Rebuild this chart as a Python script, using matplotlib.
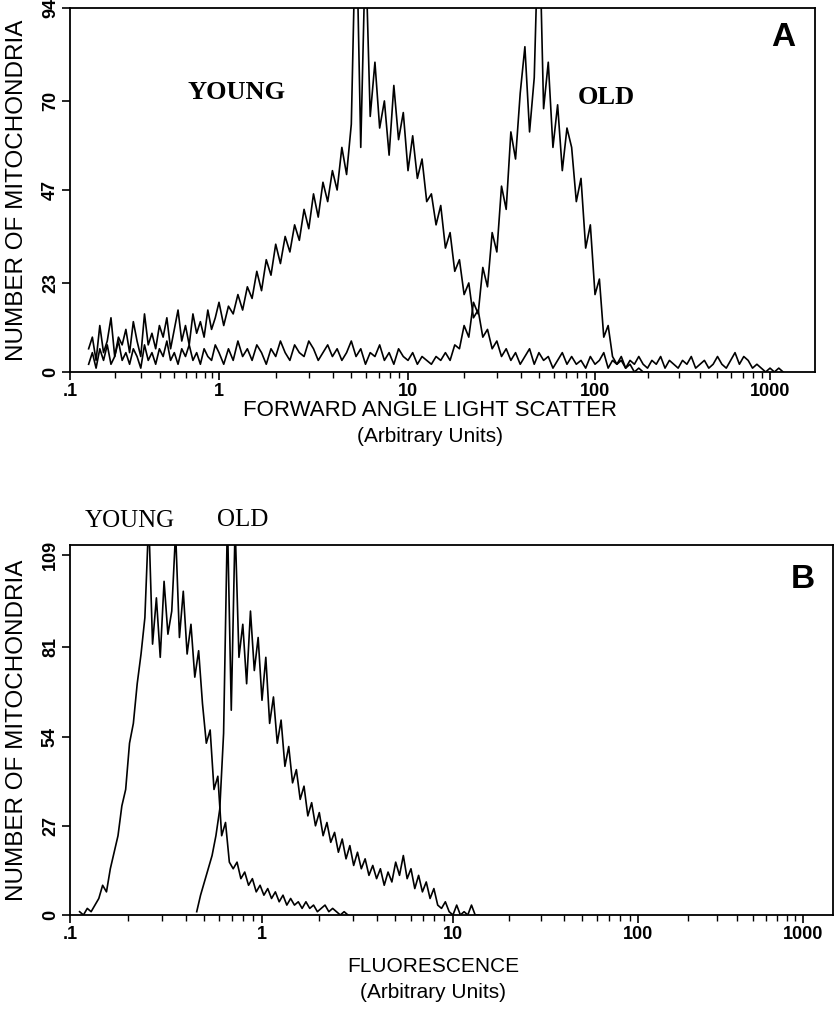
import numpy as np
import matplotlib
matplotlib.use("Agg")
import matplotlib.pyplot as plt
from matplotlib.ticker import FixedLocator, NullFormatter

plt.rcParams['font.family'] = ['Liberation Sans', 'DejaVu Sans']

# channel layout (log10 start, log10 step) for each histogram
a_start, a_step = -0.875, 0.025
b_young_start, b_old_start, b_step = -0.95, -0.34, 0.02

# panel A: forward angle light scatter, counts per channel
a_young = [6, 9, 3, 12, 5, 8, 14, 4, 9, 7,
           11, 5, 13, 8, 4, 15, 7, 10, 6, 12,
           9, 14, 6, 11, 16, 8, 12, 7, 15, 10,
           13, 9, 16, 11, 14, 18, 12, 17, 15, 20,
           16, 22, 19, 26, 21, 29, 25, 33, 28, 35,
           31, 38, 34, 42, 37, 46, 40, 49, 44, 52,
           47, 58, 51, 64, 120, 58, 110, 66, 80, 63,
           70, 56, 74, 60, 67, 52, 61, 50, 55, 44,
           46, 38, 43, 32, 36, 26, 29, 20, 23, 14,
           16, 9, 11, 6, 8, 4, 6, 3, 5, 2,
           4, 6, 2, 5, 3, 4, 1, 3, 5, 2,
           4, 2, 3, 1, 4, 2, 3, 5, 1, 3,
           2, 4, 1, 3, 2, 4, 2, 1, 3, 2,
           4, 1, 3, 2, 1, 3, 2, 4, 1, 2,
           3, 1, 2, 4, 2, 1, 3, 5, 2, 4,
           3, 1, 2, 1, 0, 1, 0, 1, 0]
a_old = [2, 5, 1, 6, 3, 7, 2, 4, 8, 3,
         5, 2, 6, 4, 1, 7, 3, 5, 2, 6,
         4, 8, 3, 5, 2, 6, 4, 7, 3, 5,
         2, 6, 4, 3, 7, 5, 2, 6, 3, 8,
         4, 6, 3, 7, 5, 2, 6, 4, 8, 5,
         3, 7, 5, 4, 8, 6, 3, 5, 7, 4,
         6, 3, 5, 8, 4, 6, 2, 5, 4, 7,
         3, 5, 2, 6, 4, 3, 5, 2, 4, 3,
         2, 4, 3, 5, 3, 7, 6, 12, 9, 18,
         15, 27, 22, 36, 31, 48, 42, 62, 55, 72,
         84, 62, 76, 120, 68, 80, 58, 69, 52, 63,
         58, 44, 50, 32, 38, 20, 24, 9, 12, 4,
         2, 3, 1, 2, 0, 1, 0, 0]

# panel B: fluorescence, counts per channel
b_young = [1, 0, 2, 1, 3, 5, 9, 7, 14, 19,
           24, 33, 38, 52, 58, 70, 79, 90, 120, 82,
           96, 78, 101, 85, 92, 116, 84, 98, 79, 88,
           72, 80, 64, 52, 56, 38, 42, 24, 28, 16,
           14, 16, 11, 13, 9, 11, 7, 9, 6, 8,
           5, 7, 4, 6, 3, 5, 3, 4, 2, 4,
           2, 3, 1, 2, 3, 1, 2, 1, 0, 1, 0]
b_old = [1, 6, 10, 14, 18, 24, 32, 55, 120, 62,
         118, 78, 88, 70, 92, 74, 84,
         65, 78, 58, 66, 52, 59, 45, 51, 40, 44,
         35, 39, 30, 34, 27, 31, 24, 28, 22, 25,
         19, 23, 17, 21, 15, 19, 14, 17, 12, 15,
         11, 14, 9, 13, 10, 16, 12, 18, 11, 14,
         8, 12, 7, 10, 5, 8, 3, 2, 4, 1,
         0, 3, 0, 1, 0, 3, 0, 0]

dec_labels = ['.1', '1', '10', '100', '1000']
a_yticks = [0, 23, 47, 70, 94]
b_yticks = [0, 27, 54, 81, 109]

# hand placed decade marks on the original axes (pixels)
decs = [-3, -1, 0, 1, 2, 3, 5]
a_pos = [70 - 2 * 149, 70, 219, 408, 595, 770, 770 + 2 * 175]
b_pos = [70 - 2 * 192, 70, 262, 453, 638, 803, 803 + 2 * 165]


def make_scale(pos):
    def fwd(x):
        x = np.asarray(x, dtype=float)
        return np.interp(np.log10(np.maximum(x, 1e-9)), decs, pos)

    def inv(p):
        return 10 ** np.interp(np.asarray(p, dtype=float), pos, decs)
    return fwd, inv


def channels(start, step, n):
    return 10 ** (start + step * np.arange(n))


fig = plt.figure(figsize=(8.36, 10.16), dpi=100)
axA = fig.add_axes([70 / 836, 1 - 372 / 1016, 745 / 836, 364 / 1016])
axB = fig.add_axes([70 / 836, 1 - 915 / 1016, 763 / 836, 370 / 1016])

line_kw = dict(color='k', lw=1.2)
axA.plot(channels(a_start, a_step, len(a_young)), a_young, **line_kw)
axA.plot(channels(a_start, a_step, len(a_old)), a_old, **line_kw)
axB.plot(channels(b_young_start, b_step, len(b_young)), b_young, **line_kw)
axB.plot(channels(b_old_start, b_step, len(b_old)), b_old, **line_kw)

major = [0.1, 1, 10, 100, 1000]
for ax, pos, xmax, yt, ymax in [(axA, a_pos, 10 ** 3.257, a_yticks, 94),
                                (axB, b_pos, 10 ** 3.182, b_yticks, 112)]:
    ax.set_xscale('function', functions=make_scale(pos))
    ax.set_xlim(0.1, xmax)
    ax.set_ylim(0, ymax)
    ax.xaxis.set_major_locator(FixedLocator(major))
    minor = [k * 10.0 ** d for d in range(-1, 4) for k in range(2, 10)
             if k * 10.0 ** d < xmax]
    ax.xaxis.set_minor_locator(FixedLocator(minor))
    ax.xaxis.set_minor_formatter(NullFormatter())
    ax.set_xticklabels(dec_labels, fontsize=13, fontweight='bold')
    ax.set_yticks(yt)
    ax.set_yticklabels([str(v) for v in yt], fontsize=13, fontweight='bold',
                       rotation=90, va='center')
    ax.tick_params(axis='both', which='major', direction='out', length=6,
                   width=1.2, pad=2)
    ax.tick_params(axis='x', which='minor', direction='out', length=4,
                   width=1.0)
    for s in ax.spines.values():
        s.set_linewidth(1.3)

# panel letters and group labels
fig.text(783 / 836, 1 - 38 / 1016, 'A', fontsize=24, fontweight='bold',
         ha='center', va='center')
fig.text(803 / 836, 1 - 580 / 1016, 'B', fontsize=24, fontweight='bold',
         ha='center', va='center')
fig.text(237 / 836, 1 - 92 / 1016, 'YOUNG', family='Liberation Serif',
         fontsize=19, fontweight='bold', ha='center', va='center')
fig.text(606 / 836, 1 - 97 / 1016, 'OLD', family='Liberation Serif',
         fontsize=19, fontweight='bold', ha='center', va='center')
fig.text(130 / 836, 1 - 521 / 1016, 'YOUNG', family='Liberation Serif',
         fontsize=18, ha='center', va='center')
fig.text(243 / 836, 1 - 520 / 1016, 'OLD', family='Liberation Serif',
         fontsize=18, ha='center', va='center')

# axis titles
fig.text(17 / 836, 1 - 190 / 1016, 'NUMBER OF MITOCHONDRIA', rotation=90,
         fontsize=17.5, ha='center', va='center')
fig.text(17 / 836, 1 - 730 / 1016, 'NUMBER OF MITOCHONDRIA', rotation=90,
         fontsize=17.5, ha='center', va='center')
fig.text(430 / 836, 1 - 411 / 1016, 'FORWARD ANGLE LIGHT SCATTER',
         fontsize=16, ha='center', va='center')
fig.text(430 / 836, 1 - 437 / 1016, '(Arbitrary Units)',
         fontsize=15, ha='center', va='center')
fig.text(433 / 836, 1 - 966 / 1016, 'FLUORESCENCE',
         fontsize=15, ha='center', va='center')
fig.text(433 / 836, 1 - 993 / 1016, '(Arbitrary Units)',
         fontsize=15, ha='center', va='center')

fig.savefig('out.png', dpi=100)
